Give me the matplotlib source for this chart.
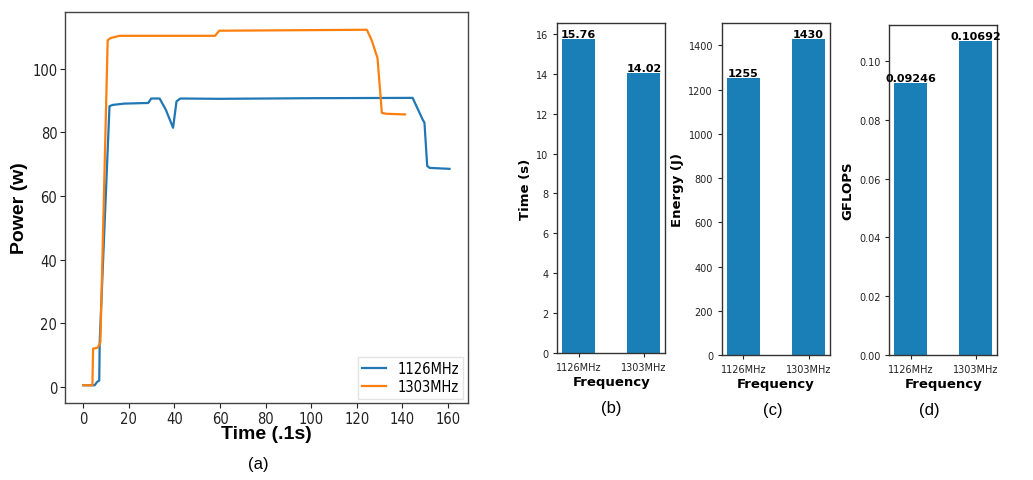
import matplotlib.pyplot as plt
from matplotlib.ticker import FormatStrFormatter

# power trace (breakpoints)
t_1126 = [0, 5, 6, 7, 7.2, 11.5, 13, 18, 28.5, 29.8, 33.5, 36.2, 39.4, 40.9, 42.6,
          60, 100, 144.5, 148.9, 149.7, 150.9, 152, 160.7]
p_1126 = [0.5, 0.5, 1.5, 2, 14, 88.2, 88.6, 89, 89.2, 90.6, 90.6, 87.1, 81.4, 89.7, 90.6,
          90.5, 90.7, 90.8, 84, 83, 69.4, 68.8, 68.5]

t_1303 = [0, 4, 4.3, 6.3, 7.5, 10.7, 12, 15.9, 57.8, 59.7, 124.4, 126.5, 129.1, 131,
          133, 141.2]
p_1303 = [0.5, 0.5, 12, 12.3, 14, 108.9, 109.6, 110.3, 110.3, 111.9, 112.2, 109, 103.3,
          86.1, 85.8, 85.6]

freqs = ['1126MHz', '1303MHz']
run_time = [15.76, 14.02]
energy = [1255, 1430]
gflops = [0.09246, 0.10692]
time_labels = ['15.76', '14.02']
energy_labels = ['1255', '1430']
gflops_labels = ['0.09246', '0.10692']

BLUE = '#1f77b4'
ORANGE = '#ff7f0e'
BAR = '#1a7fb7'


def bar_panel(fig, rect, values, labels, ylabel, ticks, fmt=None):
    ax = fig.add_axes(rect)
    ax.bar(range(len(values)), values, width=0.5, color=BAR)
    ax.set_xticks(range(len(values)))
    ax.set_xticklabels(freqs)
    ax.set_yticks(ticks)
    if fmt:
        ax.yaxis.set_major_formatter(FormatStrFormatter(fmt))
    ax.tick_params(labelsize=7, length=3, width=0.8, colors='#222222')
    for s in ax.spines.values():
        s.set_color('#333333')
        s.set_linewidth(1.0)
    ax.set_xlabel('Frequency', fontsize=9.5, fontweight='bold', labelpad=2)
    ax.set_ylabel(ylabel, fontsize=9.5, fontweight='bold', labelpad=3)
    for i, (v, lab) in enumerate(zip(values, labels)):
        ax.text(i, v, lab, ha='center', va='bottom', fontsize=8, fontweight='bold',
                color='black')
    return ax


def main():
    fig = plt.figure(figsize=(10.33, 4.81), dpi=100)

    # (a) power over time
    ax = fig.add_axes([0.0629, 0.160, 0.390, 0.813])
    ax.plot(t_1126, p_1126, color=BLUE, lw=1.6, label='1126MHz')
    ax.plot(t_1303, p_1303, color=ORANGE, lw=1.6, label='1303MHz')
    ax.set_xticks(range(0, 161, 20))
    ax.set_yticks(range(0, 101, 20))
    for lab in ax.get_xticklabels() + ax.get_yticklabels():
        lab.set_family('DejaVu Sans')
        lab.set_stretch('condensed')
        lab.set_fontsize(10.5)
    ax.tick_params(length=3.5, width=0.8, colors='#222222', pad=2)
    for s in ax.spines.values():
        s.set_color('#444444')
        s.set_linewidth(1.0)
    ax.set_xlabel('Time (.1s)', fontsize=14, fontweight='bold',
                  family='Liberation Sans')
    ax.set_ylabel('Power (w)', fontsize=14, fontweight='bold',
                  family='Liberation Sans')
    ax.xaxis.set_label_coords(0.5, -0.057)
    ax.yaxis.set_label_coords(-0.092, 0.5)
    leg = ax.legend(loc='lower right',
                    prop={'family': 'DejaVu Sans', 'stretch': 'condensed', 'size': 10.5},
                    handlelength=1.6, borderpad=0.3, labelspacing=0.2,
                    fancybox=False, borderaxespad=0.3)
    leg.get_frame().set_edgecolor('#dddddd')

    # (b)-(d) bar charts
    bar_panel(fig, [0.5395, 0.264, 0.1043, 0.686], run_time, time_labels,
              'Time (s)', range(0, 17, 2))
    bar_panel(fig, [0.699, 0.260, 0.1043, 0.690], energy, energy_labels,
              'Energy (J)', range(0, 1401, 200))
    bar_panel(fig, [0.861, 0.260, 0.104, 0.686], gflops, gflops_labels,
              'GFLOPS', [0, 0.02, 0.04, 0.06, 0.08, 0.10], fmt='%.2f')

    # sub-figure captions
    cap = dict(ha='center', va='center', fontsize=12, family='Liberation Sans')
    fig.text(258 / 1033, 1 - 465 / 481, '(a)', **cap)
    fig.text(611 / 1033, 1 - 408 / 481, '(b)', **cap)
    fig.text(773 / 1033, 1 - 410 / 481, '(c)', **cap)
    fig.text(929 / 1033, 1 - 410 / 481, '(d)', **cap)

    fig.savefig('out.png', dpi=100)


if __name__ == '__main__':
    main()
